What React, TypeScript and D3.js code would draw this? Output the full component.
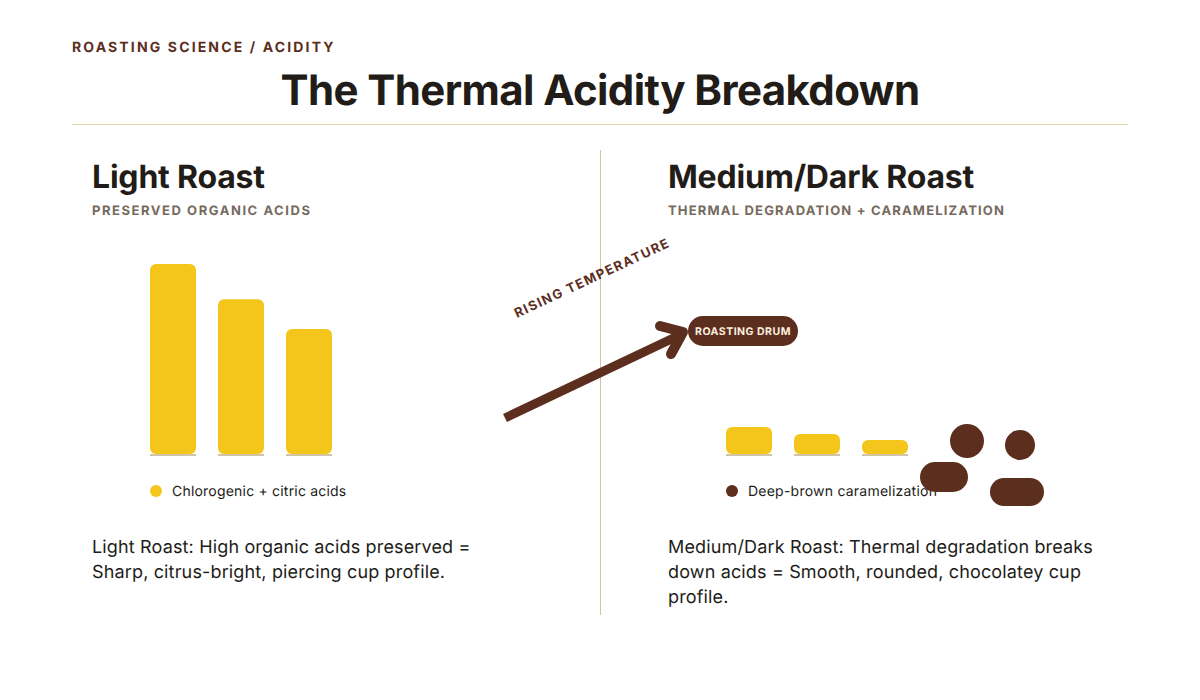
import { useEffect, useRef } from 'react';
import * as d3 from 'd3';

const kicker = 'ROASTING SCIENCE / ACIDITY';
const title = 'The Thermal Acidity Breakdown';

const acidKeys = ['a', 'b', 'c'];
const lightValues = [100, 81.5, 65.8];
const darkValues = [14.2, 10.5, 7.4];

const panelTitles = ['Light Roast', 'Medium/Dark Roast'];
const panelSubtitles = ['PRESERVED ORGANIC ACIDS', 'THERMAL DEGRADATION + CARAMELIZATION'];
const legendLabels = ['Chlorogenic + citric acids', 'Deep-brown caramelization'];
const lightBody = ['Light Roast: High organic acids preserved =', 'Sharp, citrus-bright, piercing cup profile.'];
const darkBody = [
  'Medium/Dark Roast: Thermal degradation breaks',
  'down acids = Smooth, rounded, chocolatey cup',
  'profile.',
];

const BROWN = '#5c2e1e';
const YELLOW = '#f4c61b';
const INK = '#211c18';
const MUTED = '#766a5e';
const RULE = '#dcd5ac';
const BASE = '#d2c5a6';
const FONT = 'Inter, sans-serif';

export default function App() {
  const svgRef = useRef<SVGSVGElement>(null);

  useEffect(() => {
    if (!svgRef.current) return;

    const svg = d3.select(svgRef.current);
    svg.selectAll('*').remove();
    svg.attr('font-family', FONT).attr('text-rendering', 'geometricPrecision');

    const text = (x: number, y: number, str: string, size: number, weight: number, fill: string, spacing = 0) =>
      svg
        .append('text')
        .attr('x', x)
        .attr('y', y)
        .attr('font-size', size)
        .attr('font-weight', weight)
        .attr('fill', fill)
        .attr('letter-spacing', spacing)
        .text(str);

    // Header
    text(72, 52, kicker, 14, 700, BROWN, 2.14);
    text(600, 105, title, 42, 700, INK, -0.6).attr('text-anchor', 'middle');
    svg.append('rect').attr('x', 72).attr('y', 124).attr('width', 1056).attr('height', 1).attr('fill', RULE);

    // Centre divider
    svg.append('rect').attr('x', 600).attr('y', 150).attr('width', 1).attr('height', 465).attr('fill', BASE);

    // Panel headings
    text(92, 188, panelTitles[0], 32, 700, INK, -0.2);
    text(668, 188, panelTitles[1], 32, 700, INK, -0.2);
    text(92, 215, panelSubtitles[0], 13, 700, MUTED, 1.55);
    text(668, 215, panelSubtitles[1], 13, 700, MUTED, 1.18);

    // Bars
    const y = d3.scaleLinear().domain([0, 100]).range([454, 264]);

    const drawBars = (values: number[], left: number) => {
      const x = d3
        .scaleBand<string>()
        .domain(acidKeys)
        .range([left, left + 182])
        .paddingInner(22 / 68)
        .paddingOuter(0);

      const g = svg.append('g');
      values.forEach((v, i) => {
        const bx = x(acidKeys[i]) as number;
        g.append('rect')
          .attr('x', bx)
          .attr('y', 454)
          .attr('width', x.bandwidth())
          .attr('height', 2)
          .attr('fill', BASE);
        g.append('rect')
          .attr('x', bx)
          .attr('y', y(v))
          .attr('width', x.bandwidth())
          .attr('height', y(0) - y(v))
          .attr('rx', 6)
          .attr('fill', YELLOW);
      });
    };
    drawBars(lightValues, 150);
    drawBars(darkValues, 726);

    // Legends
    svg.append('circle').attr('cx', 156).attr('cy', 491).attr('r', 6).attr('fill', YELLOW);
    text(172, 496, legendLabels[0], 14, 400, INK, 0.2);
    svg.append('circle').attr('cx', 732).attr('cy', 491).attr('r', 6).attr('fill', BROWN);
    text(748, 496, legendLabels[1], 14, 400, INK, 0.23);

    // Caramelized blobs, drawn over the legend
    const blob = (bx: number, by: number, w: number, h: number, r: number) =>
      svg
        .append('rect')
        .attr('x', bx)
        .attr('y', by)
        .attr('width', w)
        .attr('height', h)
        .attr('rx', r)
        .attr('fill', BROWN);
    blob(950, 424, 34, 34, 17);
    blob(1005, 430, 30, 30, 15);
    blob(920, 462, 48, 30, 15);
    blob(990, 478, 54, 28, 14);

    // Body copy
    lightBody.forEach((line, i) => text(92, 553 + i * 25, line, 18, 400, INK, 0.15));
    darkBody.forEach((line, i) => text(668, 553 + i * 25, line, 18, 400, INK, 0.15));

    // Temperature arrow
    const line = d3.line();
    svg
      .append('path')
      .attr('d', line([[505, 418], [682, 334]]))
      .attr('fill', 'none')
      .attr('stroke', BROWN)
      .attr('stroke-width', 9);
    svg
      .append('path')
      .attr('d', line([[660, 326], [683, 332], [671, 354]]))
      .attr('fill', 'none')
      .attr('stroke', BROWN)
      .attr('stroke-width', 10)
      .attr('stroke-linecap', 'round')
      .attr('stroke-linejoin', 'round');

    text(0, 0, 'RISING TEMPERATURE', 13, 700, BROWN, 1.45)
      .attr('text-anchor', 'middle')
      .attr('transform', 'translate(594 282) rotate(-25)');

    // Roasting drum pill
    svg.append('rect').attr('x', 688).attr('y', 316).attr('width', 110).attr('height', 30).attr('rx', 15).attr('fill', BROWN);
    text(743, 335, 'ROASTING DRUM', 10.5, 700, '#fdf0e0', 0.5).attr('text-anchor', 'middle');
  }, []);

  return (
    <svg
      ref={svgRef}
      width={1200}
      height={700}
      viewBox="0 0 1200 700"
      style={{ position: 'absolute', left: 0, top: 0, background: '#ffffff' }}
    />
  );
}
